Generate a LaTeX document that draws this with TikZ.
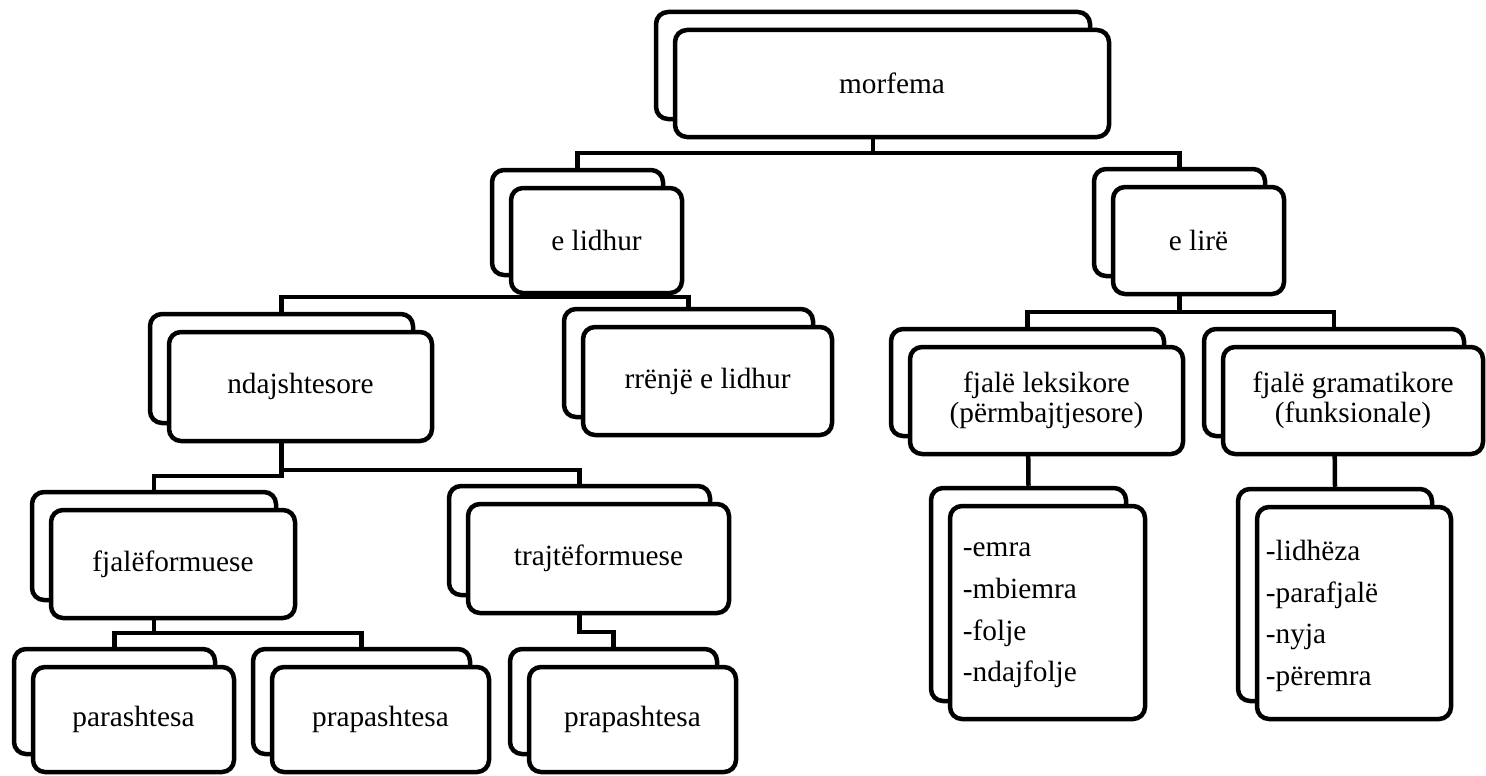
\documentclass[tikz,border=0pt]{standalone}
\usepackage{fontspec}
\setmainfont{Liberation Serif}
\usetikzlibrary{backgrounds}

% Stacked card: a back copy shifted up-left, and the front card with its label.
% #1 name, #2 x1, #3 y1, #4 x2, #5 y2 (front card, px), #6 label
\newcommand\pairbox[6]{%
  \node[card,minimum width={(#4-#2)*1pt},minimum height={(#5-#3)*1pt}]
    (#1B) at ({(#2+#4)/2-19},{(#3+#5)/2-18}) {};
  \node[card,lbl,minimum width={(#4-#2)*1pt},minimum height={(#5-#3)*1pt}]
    (#1F) at ({(#2+#4)/2},{(#3+#5)/2}) {#6};
}

\begin{document}
\begin{tikzpicture}[x=1pt,y=-1pt,
  card/.style={draw,fill=white,line width=4.5pt,rounded corners=12pt,inner sep=0pt},
  link/.style={line width=4.5pt},
  lbl/.style={font=\fontsize{29.3}{30.5}\selectfont,align=center},
  lst/.style={font=\fontsize{29.3}{41.7}\selectfont,align=left,anchor=west,inner sep=0pt}]

\useasboundingbox (0,0) rectangle (1486,776);

% cards
\pairbox{mor}{675}{30}{1109}{137}{morfema}
\pairbox{lid}{511}{188}{682}{293}{e lidhur}
\pairbox{lir}{1113}{187}{1284}{294}{e lirë}
\pairbox{ndj}{169}{332}{432}{441}{ndajshtesore}
\pairbox{rrl}{583}{327}{832}{435}{rrënjë e lidhur}
\pairbox{lek}{910}{347}{1183}{454}{fjalë leksikore\\(përmbajtjesore)}
\pairbox{gra}{1223}{347}{1483}{454}{fjalë gramatikore\\(funksionale)}
\pairbox{fjf}{51}{510}{295}{618}{fjalëformuese}
\pairbox{trf}{468}{504}{729}{613}{trajtëformuese}
\pairbox{lekl}{950}{506}{1145}{719}{}
\pairbox{gral}{1257}{507}{1451}{719}{}
\pairbox{par}{33}{667}{234}{772}{parashtesa}
\pairbox{prA}{272}{667}{489}{772}{prapashtesa}
\pairbox{prB}{529}{667}{736}{772}{prapashtesa}

% word lists
\node[lst] (lekT) at ([xshift=15pt,yshift=-3pt]leklF.west) {-emra\\-mbiemra\\-folje\\-ndajfolje};
\node[lst] (graT) at ([xshift=11pt,yshift=-3pt]gralF.west) {-lidhëza\\-parafjalë\\-nyja\\-përemra};

% connectors, behind the cards
\begin{scope}[on background layer]
  \draw[link] (morB.center) -- (morB.center |- 0,153) -| (lidB.north);
  \draw[link] (morB.center) -- (morB.center |- 0,153) -| (lirB.north);
  \draw[link] (lidB.center) -- (lidB.center |- 0,297) -| (ndjB.north);
  \draw[link] (lidB.center) -- (lidB.center |- 0,297) -| (rrlB.north);
  \draw[link] (lirB.center) -- (lirB.center |- 0,312) -| (lekB.north);
  \draw[link] (lirB.center) -- (lirB.center |- 0,312) -| (graB.north);
  \draw[link] (ndjB.center) -- (ndjB.center |- 0,476) -| (fjfB.north);
  \draw[link] (ndjB.center) -- (ndjB.center |- 0,470) -| (trfB.north);
  \draw[link] (fjfB.center) -- (fjfB.center |- 0,633) -| (parB.north);
  \draw[link] (fjfB.center) -- (fjfB.center |- 0,633) -| (prAB.north);
  \draw[link] (trfB.center) -- (trfB.center |- 0,632) -| (prBB.north);
  \draw[link] (lekB.center) -- (leklB.north);
  \draw[link] (graB.center) -- (gralB.north);
\end{scope}
\end{tikzpicture}
\end{document}
